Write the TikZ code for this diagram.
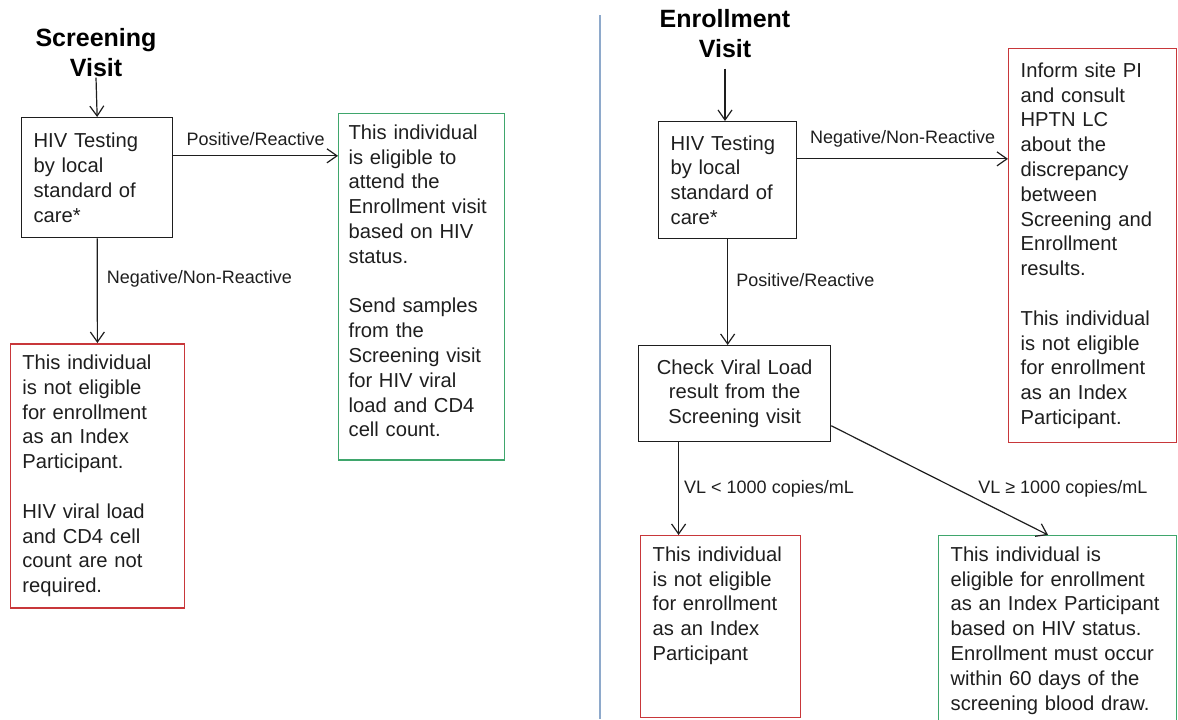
\documentclass[tikz,border=0pt]{standalone}
\usepackage{fontspec}
\setmainfont{Liberation Sans}
\usepackage{xcolor}
\usepackage{tikz}
\usetikzlibrary{arrows.meta,positioning,calc}
\definecolor{hptnred}{HTML}{C8373A}
\definecolor{hptngreen}{HTML}{3FA66C}
\definecolor{hptnblue}{HTML}{8EA9CB}
\definecolor{hptnink}{HTML}{1E1E1E}
\newcommand{\bodysize}{\fontsize{10.1}{12.4}\selectfont}
\newcommand{\labelsize}{\fontsize{9}{10.8}\selectfont}
\newcommand{\titlesize}{\fontsize{12.5}{15.2}\selectfont\bfseries}
\tikzset{
  stepbox/.style={draw=hptnink,line width=0.65pt,anchor=north west,align=left,
    inner xsep=6pt,inner ysep=5.5pt,text=hptnink},
  redbox/.style={stepbox,draw=hptnred},
  greenbox/.style={stepbox,draw=hptngreen},
  visit/.style={font=\titlesize,align=center,inner sep=0pt,anchor=north,text=black},
  lbl/.style={font=\labelsize,inner sep=0pt,text=hptnink},
  flow/.style={-{Straight Barb[length=5pt,width=7pt]},line width=0.6pt,draw=hptnink},
  divider/.style={hptnblue,line width=0.6pt}
}

\begin{document}
\begin{tikzpicture}[x=0.5pt,y=-0.5pt,font=\bodysize]
    \useasboundingbox (0,0) rectangle (1178,719);
    % screening visit
    \node[visit] (scrvisit) at (96,28) {Screening\\Visit};
    \node[stepbox,text width=63.5pt,minimum height=60pt] (scrhiv) at (21,117)
      {HIV Testing\\by local\\standard of\\care*};
    \node[greenbox,inner xsep=5pt,text width=73pt,minimum height=172.5pt] (scrpos) at (338,113)
      {This individual\\is eligible to\\attend the\\Enrollment visit\\based on HIV\\status.\\[12.4pt]
       Send samples\\from the\\Screening visit\\for HIV viral\\load and CD4\\cell count.\par\vspace*{6pt}};
    \node[redbox,text width=75pt,minimum height=131pt,line width=0.8pt] (scrneg) at (9.6,343)
      {This individual\\is not eligible\\for enrollment\\as an Index\\Participant.\\[12.4pt]
       HIV viral load\\and CD4 cell\\count are not\\required.};
    \coordinate (scrpt) at ($(scrhiv.north east)!0.32!(scrhiv.south east)$);
    \draw[flow] (scrvisit.south) -- (scrhiv.north);
    \draw[flow] (scrpt) -- (scrpt -| scrpos.west) node[lbl,midway,above=5pt] {Positive/Reactive};
    \draw[flow] (scrhiv.south) -- (scrneg.north) node[lbl,pos=0.39,right=4.5pt] {Negative/Non-Reactive};
    % divider
    \draw[divider] (600,15) -- (600,719);
    % enrollment visit
    \node[visit] (envisit) at (725,9) {Enrollment\\Visit};
    \node[stepbox,text width=57pt,minimum height=58.5pt] (enhiv) at (658,121)
      {HIV Testing\\by local\\standard of\\care*};
    \node[redbox,text width=72pt,minimum height=197pt] (enneg) at (1008,48)
      {Inform site PI\\and consult\\HPTN LC\\about the\\discrepancy\\between\\Screening and\\Enrollment\\results.\\[12.4pt]
       This individual\\is not eligible\\for enrollment\\as an Index\\Participant.};
    \node[stepbox,align=center,text width=84pt,minimum height=48pt] (vlcheck) at (638,345)
      {Check Viral Load\\result from the\\Screening visit};
    \node[redbox,text width=68pt,minimum height=91pt] (vllow) at (640,535)
      {This individual\\is not eligible\\for enrollment\\as an Index\\Participant\par\vspace*{21pt}};
    \node[greenbox,text width=107pt,minimum height=91pt] (vlhigh) at (938,535)
      {This individual is\\eligible for enrollment\\as an Index Participant\\based on HIV status.\\
       Enrollment must occur\\within 60 days of the\\screening blood draw.};
    \coordinate (enpt) at ($(enhiv.north east)!0.32!(enhiv.south east)$);
    \coordinate (lowpt) at ($(vlcheck.south west)!0.21!(vlcheck.south east)$);
    \coordinate (highpt) at ($(vlcheck.north east)!0.83!(vlcheck.south east)$);
    \draw[flow,shorten <=5pt] (envisit.south) -- (envisit.south |- enhiv.north);
    \draw[flow] (enpt) -- (enpt -| enneg.west) node[lbl,midway,above=5.5pt] {Negative/Non-Reactive};
    \draw[flow] (enhiv.south) -- (enhiv.south |- vlcheck.north) node[lbl,pos=0.39,right=4pt] {Positive/Reactive};
    \draw[flow] (lowpt) -- (lowpt |- vllow.north) node[lbl,midway,right=2.5pt] {VL < 1000 copies/mL};
    \draw[flow] (highpt) -- ($(vlhigh.north west)!0.46!(vlhigh.north east)$)
      node[lbl,pos=0.574,anchor=west,xshift=11pt] {VL ≥ 1000 copies/mL};
  \end{tikzpicture}
\end{document}
